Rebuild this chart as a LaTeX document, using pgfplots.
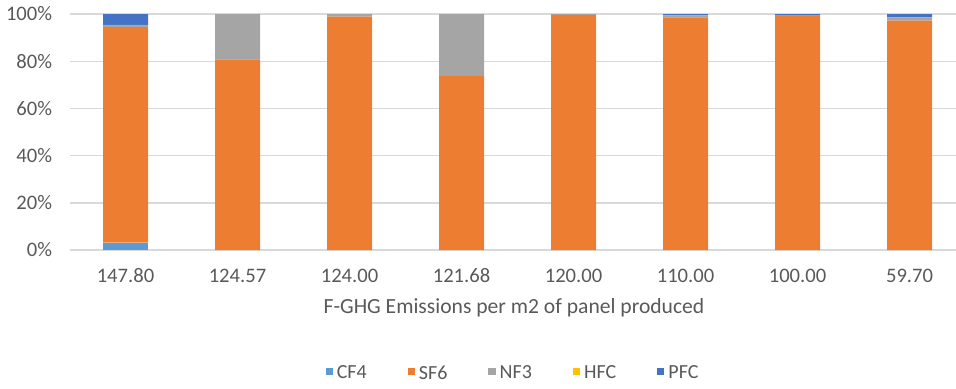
\documentclass[border=0pt]{standalone}
\usepackage{pgfplots}
\pgfplotsset{compat=1.18}
\usepackage{fontspec}
\setmainfont{Carlito}

\definecolor{cfour}{HTML}{5B9BD5}
\definecolor{sfsix}{HTML}{ED7D31}
\definecolor{nfthree}{HTML}{A5A5A5}
\definecolor{hfc}{HTML}{FFC000}
\definecolor{pfc}{HTML}{4472C4}
\definecolor{gridgray}{HTML}{D9D9D9}
\definecolor{labelgray}{HTML}{595959}

\begin{document}
\begin{tikzpicture}
\path[use as bounding box] (-34.75pt,-69pt) rectangle (443.25pt,125pt);
\begin{axis}[
  at={(0,0)}, anchor=south west,
  scale only axis,
  width=443.25pt, height=118pt,
  ybar stacked,
  bar width=22.5pt,
  xmin=-0.5, xmax=7.415,
  ymin=0, ymax=100,
  enlargelimits=false,
  xtick=data,
  xticklabels={147.80,124.57,124.00,121.68,120.00,110.00,100.00,59.70},
  ytick={0,20,40,60,80,100},
  yticklabel={\pgfmathprintnumber{\tick}\%},
  /pgf/number format/assume math mode=true,
  major tick length=0pt,
  axis line style={draw=none},
  ymajorgrids,
  grid style={gridgray, line width=0.7pt},
  tick label style={text=labelgray, font=\fontsize{10.3}{12}\selectfont},
  xticklabel style={anchor=base, inner sep=0pt, yshift=-16.3pt},
  yticklabel style={anchor=east, inner sep=0pt, xshift=-8.5pt},
  xlabel={F-GHG Emissions per m2 of panel produced},
  xlabel style={at={(axis description cs:0.5014,0)}, anchor=base, inner sep=0pt,
    yshift=-31.7pt, text=labelgray, font=\fontsize{10.8}{13}\selectfont},
  legend columns=5,
  legend style={draw=none, fill=none,
    at={(axis description cs:0.5014,-0.525)}, anchor=center,
    font=\fontsize{10}{12}\selectfont, text=labelgray,
    /tikz/every even column/.append style={column sep=18.5pt}},
  legend image code/.code={\fill[#1] (0pt,-0.4pt) rectangle (3.6pt,3.2pt);},
]
% share of each gas in the total F-GHG emissions (percent)
\addplot[fill=cfour, draw=none] coordinates {(0,3.1) (1,0) (2,0) (3,0) (4,0) (5,0) (6,0) (7,0)};
\addplot[fill=sfsix, draw=none] coordinates {(0,91.3) (1,80.8) (2,98.9) (3,73.7) (4,99.6) (5,98.6) (6,99.3) (7,97.2)};
\addplot[fill=nfthree, draw=none] coordinates {(0,1.0) (1,19.2) (2,1.1) (3,26.3) (4,0.4) (5,0.8) (6,0) (7,1.4)};
\addplot[fill=hfc, draw=none] coordinates {(0,0) (1,0) (2,0) (3,0) (4,0) (5,0) (6,0) (7,0)};
\addplot[fill=pfc, draw=none] coordinates {(0,4.6) (1,0) (2,0) (3,0) (4,0) (5,0.6) (6,0.7) (7,1.4)};
\legend{CF4,SF6,NF3,HFC,PFC}
\end{axis}
\end{tikzpicture}
\end{document}
